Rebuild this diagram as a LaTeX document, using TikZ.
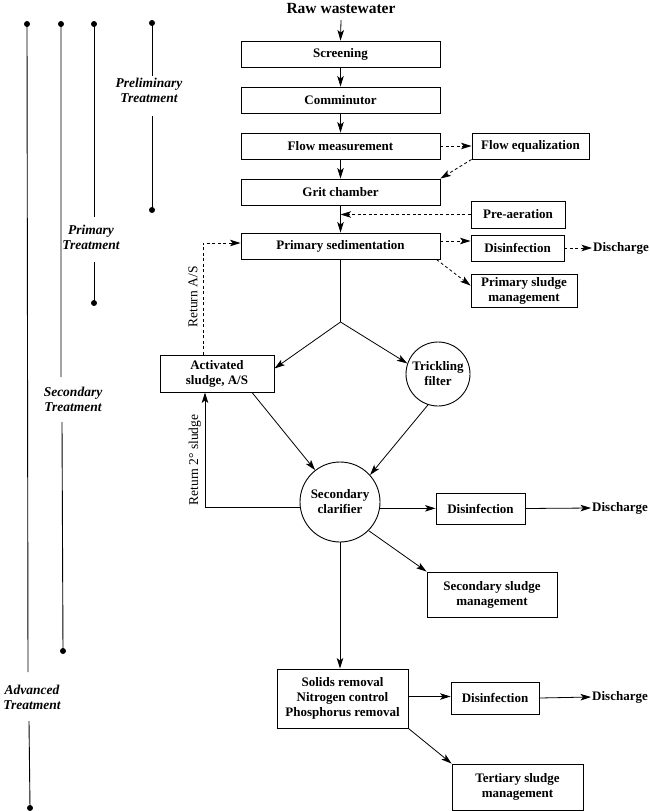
\documentclass[tikz,border=0pt]{standalone}
\usepackage{fontspec}
\setmainfont{Liberation Serif}
\usetikzlibrary{arrows.meta,calc}
\begin{document}
\begin{tikzpicture}[x=1pt,y=-1pt,
  every node/.style={font=\fontsize{13}{15}\selectfont\bfseries},
  box/.style={draw,line width=0.9pt,inner sep=0pt,align=center},
  circ/.style={draw,circle,line width=0.9pt,inner sep=0pt,align=center},
  arr/.style={-{Stealth[length=10.5pt,width=6.5pt,inset=2.5pt]},line width=0.8pt},
  dsh/.style={arr,dash pattern=on 3pt off 2.5pt},
  stage/.style={font=\fontsize{13.5}{15}\selectfont\bfseries\itshape,align=center,inner sep=0pt},
  ret/.style={font=\fontsize{13.5}{15}\selectfont,rotate=90,inner sep=0pt},
  bar/.style={line width=0.9pt},
  txt/.style={inner sep=1pt}
]
\fill[white] (0,0) rectangle (649,811);
\useasboundingbox (0,0) rectangle (649,811);

% main column
\node[font=\fontsize{15.5}{17}\selectfont\bfseries,inner sep=0pt] (raw) at (341,9) {Raw wastewater};
\coordinate (rawend) at (341,20);
\node[box,minimum width=199pt,minimum height=26pt] (scr) at (340.5,54) {Screening};
\node[box,minimum width=199pt,minimum height=26pt] (com) at (340.5,100) {Comminutor};
\node[box,minimum width=199pt,minimum height=26pt] (fm) at (340.5,146) {Flow measurement};
\node[box,minimum width=199pt,minimum height=26pt] (grit) at (340.5,192) {Grit chamber};
\node[box,minimum width=199pt,minimum height=26pt] (psed) at (340.5,246) {Primary sedimentation};

\node[box,minimum width=117pt,minimum height=26pt] (feq) at (530.5,146) {Flow equalization};
\node[box,minimum width=94pt,minimum height=27pt] (pre) at (518,214.5) {Pre-aeration};
\node[box,minimum width=93pt,minimum height=26pt] (dis1) at (517.5,248) {Disinfection};
\node[txt] (dch1) at (621,248) {Discharge};
\node[box,minimum width=106pt,minimum height=33pt] (psm) at (524,290.5) {Primary sludge\\management};

\coordinate (split) at (340.5,322);
\node[box,minimum width=114pt,minimum height=37pt] (as) at (217,373.5) {Activated\\sludge, A/S};
\node[circ,minimum size=64pt] (tf) at (438,374) {Trickling\\filter};
\node[circ,minimum size=80pt] (sc) at (340,502) {Secondary\\clarifier};
\node[box,minimum width=89pt,minimum height=31pt] (dis2) at (480.5,508.5) {Disinfection};
\node[txt] (dch2) at (620,508) {Discharge};
\node[box,minimum width=130pt,minimum height=45pt] (ssm) at (492,594.5) {Secondary sludge\\management};

\node[box,minimum width=131pt,minimum height=59pt] (adv) at (342.5,698.5) {Solids removal\\Nitrogen control\\Phosphorus removal};
\node[box,minimum width=88pt,minimum height=32pt] (dis3) at (495,698) {Disinfection};
\node[txt] (dch3) at (620,697) {Discharge};
\node[box,minimum width=131pt,minimum height=46pt] (tsm) at (517.5,787) {Tertiary sludge\\management};

% connectors
\draw[arr] (rawend) -- (scr.north);
\draw[arr] (scr) -- (com);
\draw[arr] (com) -- (fm);
\draw[arr] (fm) -- (grit);
\draw[dsh] (fm.east) -- (feq.west);
\draw[dsh] (feq.south west) -- (grit.north east);
\draw[arr] (grit) -- (psed);
\draw[dsh] (pre.west) -- (pre.west -| grit.south);
\draw[dsh] ([yshift=5pt]psed.east) -- ([yshift=5pt]psed.east -| dis1.west);
\draw[dsh] (dis1.east) -- (dch1.west);
\draw[dsh] ([xshift=-4pt]psed.south east) -- ([yshift=-12pt]psm.north west);
\draw[line width=0.8pt] (psed.south) -- (split);
\draw[arr] (split) -- ([yshift=5pt]as.east);
\draw[arr] (split) -- (tf.161);
\draw[arr] ([xshift=35pt]as.south) -- (sc.128);
\draw[arr] (tf.-108) -- (sc.42);
\draw[arr] (sc.187) -| ([xshift=-12pt]as.south);
\draw[dsh] ([xshift=-14pt]as.north) |- ([yshift=3pt]psed.west);
\draw[arr] (sc.-9) -- (sc.-9 -| dis2.west);
\draw[arr] (dis2.east) -- (dch2.west);
\draw[arr] (sc.-45) -- (ssm.north west);
\draw[arr] (sc.south) -- (sc.south |- adv.north);
\draw[arr] ([yshift=2pt]adv.east) -- ([yshift=2pt]adv.east -| dis3.west);
\draw[arr] (dis3.east) -- (dch3.west);
\draw[arr] (adv.south east) -- (tsm.north west);

\node[ret] (rlab1) at (193,297) {Return A/S};
\node[ret] (rlab2) at (195,460) {Return 2° sludge};

% treatment stage bars
\node[stage] (prel) at (149,90) {Preliminary\\Treatment};
\coordinate (a1) at (152,23); \coordinate (a2) at (152,76);
\coordinate (a3) at (152,116); \coordinate (a4) at (152,210);
\draw[bar] (a1) -- (a2) (a3) -- (a4);
\fill (a1) circle (3) (a4) circle (3);

\node[stage] (prim) at (91,237) {Primary\\Treatment};
\coordinate (b1) at (94,24); \coordinate (b2) at (94,217);
\coordinate (b3) at (94,262); \coordinate (b4) at (94,303);
\draw[bar] (b1) -- (b2) (b3) -- (b4);
\fill (b1) circle (3) (b4) circle (3);

\node[stage] (seco) at (73,399) {Secondary\\Treatment};
\coordinate (c1) at (61,24); \coordinate (c2) at (61,377);
\coordinate (c3) at (62,422); \coordinate (c4) at (63,651);
\draw[bar] (c1) -- (c2) (c3) -- (c4);
\fill (c1) circle (3) (c4) circle (3);

\node[stage] (adva) at (32,697) {Advanced\\Treatment};
\coordinate (d1) at (27,24); \coordinate (d2) at (28,672);
\coordinate (d3) at (29,721); \coordinate (d4) at (30,808);
\draw[bar] (d1) -- (d2) (d3) -- (d4);
\fill (d1) circle (3) (d4) circle (3);
\end{tikzpicture}
\end{document}
